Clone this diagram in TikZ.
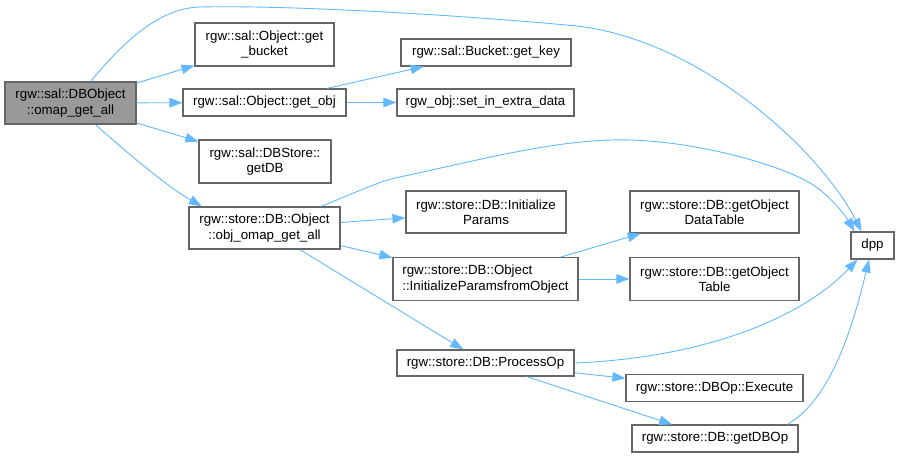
\documentclass[tikz,border=0pt]{standalone}
\usepackage{fontspec}
\setmainfont{Liberation Sans}
\usetikzlibrary{arrows.meta}

\definecolor{edgeblue}{HTML}{63B8FF}
\definecolor{boxgray}{HTML}{666666}
\definecolor{rootfill}{HTML}{999999}

\begin{document}
\begin{tikzpicture}[
    x=1pt, y=-1pt,
    >={Triangle[length=13pt,width=9.5pt]},
    fn/.style={draw=boxgray,line width=1.2pt,fill=white,inner sep=0pt,align=center,
        font=\fontsize{13.3}{15.5}\selectfont},
    root/.style={fn,fill=rootfill},
    call/.style={->,edgeblue,line width=0.9pt},
]
\useasboundingbox (0,0) rectangle (899,458);

% Caller
\node[root,minimum width=131pt,minimum height=42pt] (main) at (70.5,103)
    {rgw::sal::DBObject\\::omap\_get\_all};

% First level
\node[fn,minimum width=139pt,minimum height=43pt] (bucket) at (264.5,44.5)
    {rgw::sal::Object::get\\\_bucket};
\node[fn,minimum width=163pt,minimum height=27pt] (getobj) at (264.5,102.5)
    {rgw::sal::Object::get\_obj};
\node[fn,minimum width=132pt,minimum height=43pt] (getdb) at (265,161.5)
    {rgw::sal::DBStore::\\getDB};
\node[fn,minimum width=151pt,minimum height=42pt] (omap) at (264.5,228)
    {rgw::store::DB::Object\\::obj\_omap\_get\_all};

% Second level
\node[fn,minimum width=170pt,minimum height=27pt] (getkey) at (486,52.5)
    {rgw::sal::Bucket::get\_key};
\node[fn,minimum width=177pt,minimum height=27pt] (extra) at (485.5,102.5)
    {rgw\_obj::set\_in\_extra\_data};
\node[fn,minimum width=160pt,minimum height=42pt] (initparams) at (486,212)
    {rgw::store::DB::Initialize\\Params};
\node[fn,align=left,minimum width=185pt,minimum height=43pt] (fromobj) at (485.5,279)
    {rgw::store::DB::Object\\::InitializeParamsfromObject};
\node[fn,minimum width=177pt,minimum height=26pt] (processop) at (485.5,363)
    {rgw::store::DB::ProcessOp};

% Third level
\node[fn,minimum width=169pt,minimum height=42pt] (datatable) at (714.5,212)
    {rgw::store::DB::getObject\\DataTable};
\node[fn,minimum width=169pt,minimum height=43pt] (objtable) at (714.5,279)
    {rgw::store::DB::getObject\\Table};
\node[fn,minimum width=177pt,minimum height=27pt] (execute) at (714.5,388)
    {rgw::store::DBOp::Execute};
\node[fn,minimum width=166pt,minimum height=27pt] (getdbop) at (715,438.5)
    {rgw::store::DB::getDBOp};
\node[fn,minimum width=43pt,minimum height=27pt] (dpp) at (872.5,245.5) {dpp};

% Calls from the caller
\draw[call] (main.47) .. controls (125,40) and (160,8) .. (200,7)
    .. controls (280,5) and (450,14) .. (577,26)
    .. controls (700,40) and (820,150) .. (dpp.128);
\draw[call] (main) -- (bucket);
\draw[call] (main) -- (getobj);
\draw[call] (main) -- (getdb);
\draw[call] (main.-41) .. controls (130,155) and (165,185) .. (omap.161);

% get_obj
\draw[call] (getobj) -- (getkey);
\draw[call] (getobj) -- (extra);

% obj_omap_get_all
\draw[call] (omap.21) .. controls (350,195) and (375,183) .. (395,178)
    .. controls (480,160) and (560,138) .. (630,140)
    .. controls (700,142) and (780,165) .. (810,183)
    .. controls (830,195) and (845,215) .. (dpp.142);
\draw[call] (omap) -- (initparams);
\draw[call] (omap) -- (fromobj);
\draw[call] (omap) -- (processop);

% InitializeParamsfromObject
\draw[call] (fromobj) -- (datatable);
\draw[call] (fromobj) -- (objtable);

% ProcessOp
\draw[call] (processop.east) .. controls (700,358) and (800,320) .. (dpp.223);
\draw[call] (processop) -- (execute);
\draw[call] (processop) -- (getdbop);

% getDBOp
\draw[call] (getdbop.11) .. controls (820,405) and (845,360) .. (dpp.256);
\end{tikzpicture}
\end{document}
